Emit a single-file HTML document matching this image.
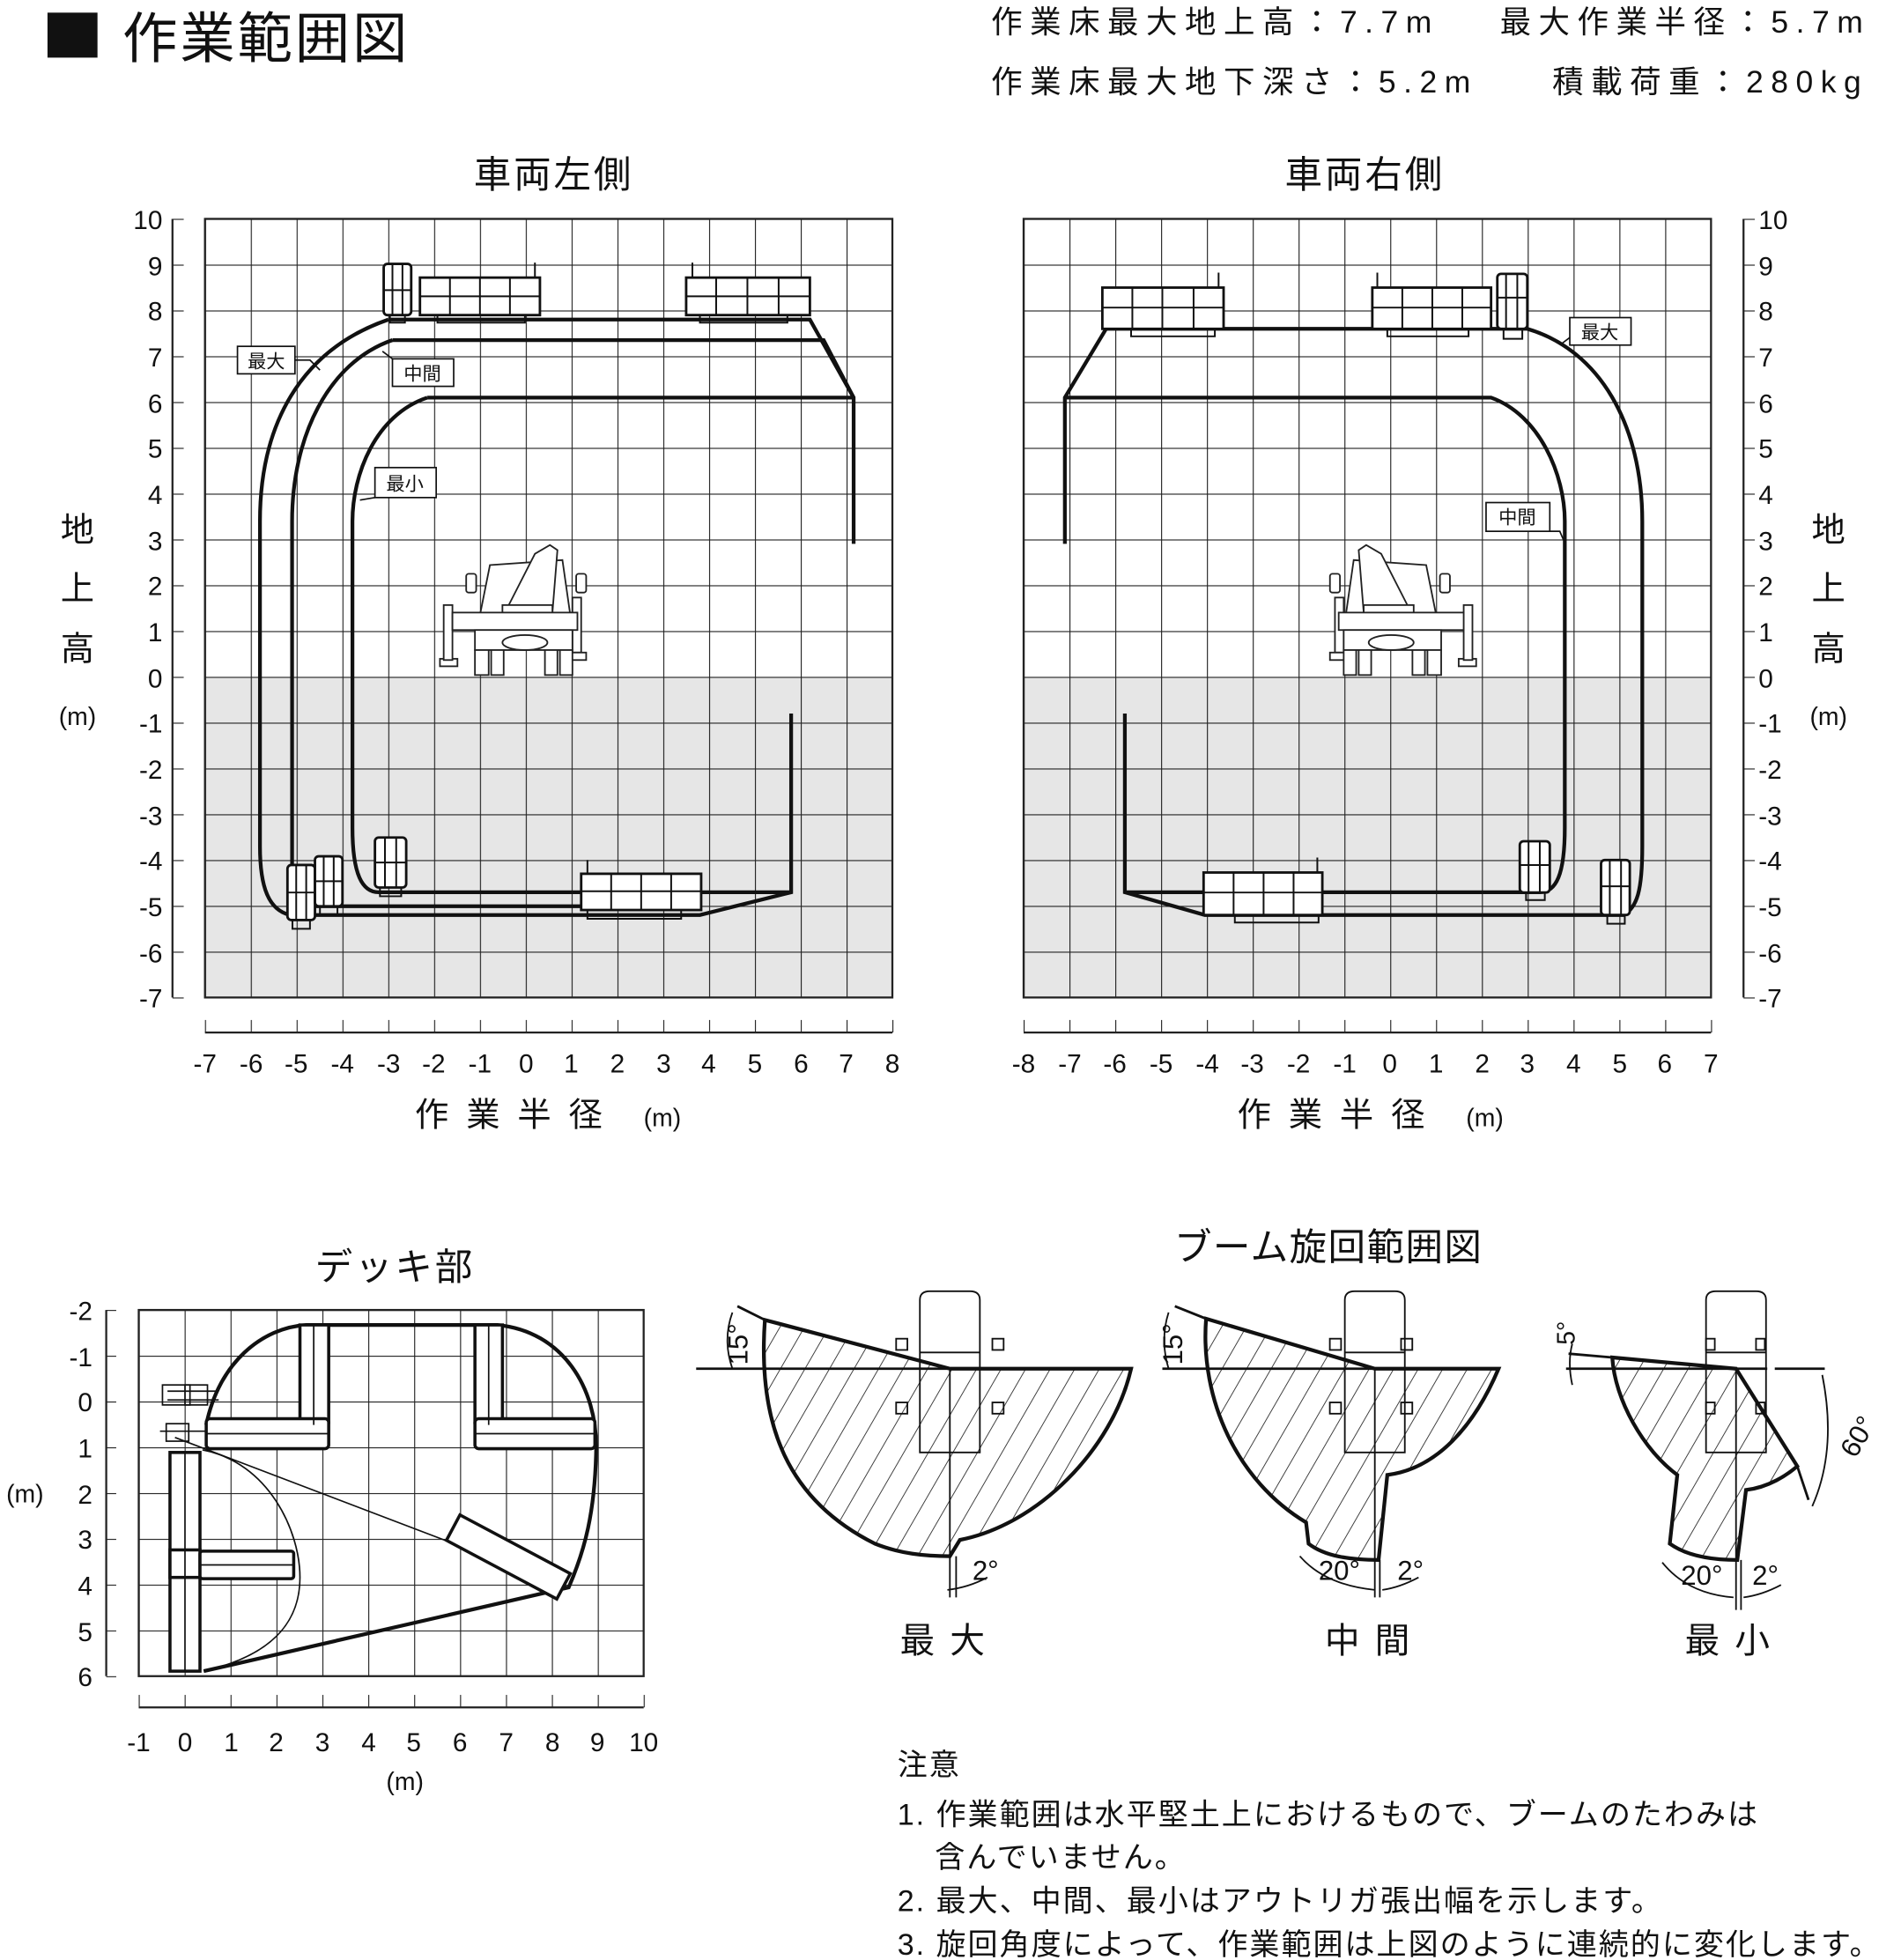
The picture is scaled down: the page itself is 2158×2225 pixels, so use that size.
<!DOCTYPE html>
<html><head><meta charset="utf-8"><style>
html,body{margin:0;padding:0;background:#fff}
svg{display:block}
text{font-family:"Liberation Sans","Noto Sans CJK JP",sans-serif;fill:#111}
</style></head><body>
<svg width="2158" height="2225" viewBox="0 0 1521 1568" xmlns="http://www.w3.org/2000/svg">
<defs>
<pattern id="gL" x="164" y="175" width="36.667" height="36.647" patternUnits="userSpaceOnUse"><path d="M0,0H36.667M0,0V36.647" stroke="#222" stroke-width="1.6" fill="none"/></pattern>
<pattern id="gR" x="819" y="175" width="36.667" height="36.647" patternUnits="userSpaceOnUse"><path d="M0,0H36.667M0,0V36.647" stroke="#222" stroke-width="1.6" fill="none"/></pattern>
<pattern id="gD" x="111" y="1048" width="36.73" height="36.63" patternUnits="userSpaceOnUse"><path d="M0,0H36.73M0,0V36.63" stroke="#222" stroke-width="1.6" fill="none"/></pattern>
<pattern id="hat" width="17" height="17" patternUnits="userSpaceOnUse" patternTransform="rotate(30)"><path d="M0,0V17" stroke="#222" stroke-width="1.2"/></pattern>
<pattern id="tkL" x="164" y="0" width="36.667" height="10" patternUnits="userSpaceOnUse"><path d="M0,0V10" stroke="#222" stroke-width="1.6"/></pattern>
<pattern id="tkR" x="819" y="0" width="36.667" height="10" patternUnits="userSpaceOnUse"><path d="M0,0V10" stroke="#222" stroke-width="1.6"/></pattern>
<pattern id="tkY" x="0" y="175" width="10" height="36.647" patternUnits="userSpaceOnUse"><path d="M0,0H10" stroke="#222" stroke-width="1.6"/></pattern>
<pattern id="tkDX" x="111" y="0" width="36.73" height="10" patternUnits="userSpaceOnUse"><path d="M0,0V10" stroke="#222" stroke-width="1.6"/></pattern>
<pattern id="tkDY" x="0" y="1048" width="10" height="36.63" patternUnits="userSpaceOnUse"><path d="M0,0H10" stroke="#222" stroke-width="1.6"/></pattern>
<g id="truck" fill="#fff" stroke="#222" stroke-width="1.3">
<rect x="352" y="527" width="14" height="6"/>
<rect x="355" y="484" width="7" height="44"/>
<rect x="458" y="478" width="7" height="44"/>
<rect x="455" y="522" width="14" height="6"/>
<path d="M383,497 L392,452 L450,448 L457,497 Z"/>
<rect x="373" y="459" width="8" height="15" rx="2"/>
<rect x="461" y="459" width="8" height="15" rx="2"/>
<path d="M404,490 L428,443 L440,436 L446,440 L442,490 Z"/>
<rect x="402" y="484" width="40" height="8"/>
<rect x="362" y="490" width="100" height="14"/>
<path d="M380,504 L458,504 L458,520 L380,520 Z"/>
<ellipse cx="420" cy="514" rx="18" ry="6"/>
<rect x="380" y="520" width="11" height="20"/>
<rect x="393" y="520" width="10" height="20"/>
<rect x="436" y="520" width="10" height="20"/>
<rect x="448" y="520" width="10" height="20"/>
</g>
</defs>

<!-- Header -->
<rect x="38" y="10" width="40" height="36" fill="#111"/>
<text x="98" y="46" font-size="44" letter-spacing="2">作業範囲図</text>
<g font-size="25" letter-spacing="6">
<text x="793" y="26">作業床最大地上高：7.7m</text>
<text x="1200" y="26">最大作業半径：5.7m</text>
<text x="793" y="74">作業床最大地下深さ：5.2m</text>
<text x="1242" y="74">積載荷重：280kg</text>
</g>

<!-- LEFT CHART -->
<text x="443" y="150" font-size="30" text-anchor="middle" letter-spacing="2">車両左側</text>
<rect x="164" y="541.5" width="550" height="256.5" fill="#e6e6e6"/>
<rect x="164" y="175" width="550" height="623" fill="url(#gL)"/>
<rect x="164" y="175" width="550" height="623" fill="none" stroke="#222" stroke-width="1.6"/>
<line x1="138" y1="175" x2="138" y2="798" stroke="#222" stroke-width="1.6"/>
<rect x="138" y="174" width="9" height="626" fill="url(#tkY)"/>
<line x1="164" y1="826" x2="714" y2="826" stroke="#222" stroke-width="1.6"/>
<rect x="163" y="816" width="553" height="10" fill="url(#tkL)"/>
<g font-size="21" text-anchor="end">
<text x="130" y="183">10</text><text x="130" y="220">9</text><text x="130" y="256">8</text><text x="130" y="293">7</text><text x="130" y="330">6</text><text x="130" y="366">5</text><text x="130" y="403">4</text><text x="130" y="440">3</text><text x="130" y="476">2</text><text x="130" y="513">1</text><text x="130" y="550">0</text><text x="130" y="586">-1</text><text x="130" y="623">-2</text><text x="130" y="660">-3</text><text x="130" y="696">-4</text><text x="130" y="733">-5</text><text x="130" y="770">-6</text><text x="130" y="806">-7</text>
</g>
<g font-size="21" text-anchor="middle">
<text x="164" y="858">-7</text><text x="201" y="858">-6</text><text x="237" y="858">-5</text><text x="274" y="858">-4</text><text x="311" y="858">-3</text><text x="347" y="858">-2</text><text x="384" y="858">-1</text><text x="421" y="858">0</text><text x="457" y="858">1</text><text x="494" y="858">2</text><text x="531" y="858">3</text><text x="567" y="858">4</text><text x="604" y="858">5</text><text x="641" y="858">6</text><text x="677" y="858">7</text><text x="714" y="858">8</text>
</g>
<text x="332" y="901" font-size="27" letter-spacing="14">作業半径</text><text x="515" y="901" font-size="20">(m)</text>
<g font-size="27" text-anchor="middle"><text x="62" y="433">地</text><text x="62" y="480">上</text><text x="62" y="528">高</text></g>
<text x="62" y="580" font-size="20" text-anchor="middle">(m)</text>

<g fill="none" stroke="#111" stroke-width="3">
<path d="M310.7,255.6 L648,255.6 L683,318 L683,435"/>
<path d="M310.7,255.6 C240,280 208,340 208,417 L208,677 C208,710 215,728 232,732 L560,732 L633,713.8 L633,570.8"/>
<path d="M314,272 L659,272 L683,318"/>
<path d="M314,272 C262,290 233.7,350 233.7,417 L233.7,695 C233.7,715 240,725 254,725 L470,725"/>
<path d="M341.9,318 L683,318"/>
<path d="M341.9,318 C300,332 282,380 282,417 L282,662 C282,700 290,713.8 303,713.8 L633,713.8"/>
</g>
<g fill="#fff" stroke="#111" stroke-width="2">
<rect x="336" y="222" width="96" height="30"/>
<rect x="549" y="222" width="99" height="30"/>
<rect x="307" y="211" width="22" height="41" rx="3"/>
<rect x="465" y="699" width="96" height="29"/>
<rect x="230" y="692" width="22" height="44" rx="3"/>
<rect x="252" y="685" width="22" height="40" rx="3"/>
<rect x="300" y="670" width="25" height="40" rx="3"/>
</g>
<g fill="none" stroke="#111" stroke-width="1.4">
<path d="M336,237H432M360,222V252M384,222V252M408,222V252M350,252V258H420V252M428,222V210"/>
<path d="M549,237H648M573,222V252M598,222V252M623,222V252M560,252V258H630V252M554,222V210"/>
<path d="M307,232H329M314,211V252M322,211V252M312,252V258H324V252"/>
<path d="M465,713H561M489,699V728M513,699V728M537,699V728M470,728V735H545V728M470,699V688"/>
<path d="M230,714H252M237,692V736M245,692V736M234,736V743H248V736"/>
<path d="M252,705H274M259,685V725M267,685V725M256,725V732H270V725"/>
<path d="M300,690H325M308,670V710M317,670V710M304,710V717H321V710"/>
</g>
<use href="#truck"/>
<g stroke="#111" stroke-width="1.2" fill="#fff">
<rect x="190" y="277" width="46" height="22"/><path d="M236,288 L248,288 L256,296" fill="none"/>
<rect x="314" y="287" width="49" height="22"/><path d="M314,287 L306,281" fill="none"/>
<rect x="300" y="374" width="49" height="24"/><path d="M300,398 L288,400" fill="none"/>
</g>
<g font-size="15" text-anchor="middle"><text x="213" y="294">最大</text><text x="338" y="304">中間</text><text x="324" y="392">最小</text></g>

<!-- RIGHT CHART -->
<text x="1092" y="150" font-size="30" text-anchor="middle" letter-spacing="2">車両右側</text>
<rect x="819" y="541.5" width="550" height="256.5" fill="#e6e6e6"/>
<rect x="819" y="175" width="550" height="623" fill="url(#gR)"/>
<rect x="819" y="175" width="550" height="623" fill="none" stroke="#222" stroke-width="1.6"/>
<line x1="1395" y1="175" x2="1395" y2="798" stroke="#222" stroke-width="1.6"/>
<rect x="1395" y="174" width="9" height="626" fill="url(#tkY)"/>
<line x1="819" y1="826" x2="1369" y2="826" stroke="#222" stroke-width="1.6"/>
<rect x="818" y="816" width="553" height="10" fill="url(#tkR)"/>
<g font-size="21">
<text x="1407" y="183">10</text><text x="1407" y="220">9</text><text x="1407" y="256">8</text><text x="1407" y="293">7</text><text x="1407" y="330">6</text><text x="1407" y="366">5</text><text x="1407" y="403">4</text><text x="1407" y="440">3</text><text x="1407" y="476">2</text><text x="1407" y="513">1</text><text x="1407" y="550">0</text><text x="1407" y="586">-1</text><text x="1407" y="623">-2</text><text x="1407" y="660">-3</text><text x="1407" y="696">-4</text><text x="1407" y="733">-5</text><text x="1407" y="770">-6</text><text x="1407" y="806">-7</text>
</g>
<g font-size="21" text-anchor="middle">
<text x="819" y="858">-8</text><text x="856" y="858">-7</text><text x="892" y="858">-6</text><text x="929" y="858">-5</text><text x="966" y="858">-4</text><text x="1002" y="858">-3</text><text x="1039" y="858">-2</text><text x="1076" y="858">-1</text><text x="1112" y="858">0</text><text x="1149" y="858">1</text><text x="1186" y="858">2</text><text x="1222" y="858">3</text><text x="1259" y="858">4</text><text x="1296" y="858">5</text><text x="1332" y="858">6</text><text x="1369" y="858">7</text>
</g>
<text x="990" y="901" font-size="27" letter-spacing="14">作業半径</text><text x="1173" y="901" font-size="20">(m)</text>
<g font-size="27" text-anchor="middle"><text x="1463" y="433">地</text><text x="1463" y="480">上</text><text x="1463" y="528">高</text></g>
<text x="1463" y="580" font-size="20" text-anchor="middle">(m)</text>

<g fill="none" stroke="#111" stroke-width="3">
<path d="M852,435 L852,318 L885,263 L1222,263 C1280,280 1314,340 1314,417 L1314,677 C1314,712 1310,726 1299,732 L964,732 L900,713.8 L900,570.8"/>
<path d="M852,318 L1193,318 C1232,332 1252,380 1252,417 L1252,662 C1252,700 1245,713.8 1232,713.8 L900,713.8"/>
</g>
<g fill="#fff" stroke="#111" stroke-width="2">
<rect x="882" y="230" width="97" height="33"/>
<rect x="1098" y="230" width="95" height="33"/>
<rect x="1198" y="219" width="24" height="44" rx="3"/>
<rect x="963" y="698" width="95" height="34"/>
<rect x="1216" y="673" width="24" height="41" rx="3"/>
<rect x="1281" y="688" width="23" height="44" rx="3"/>
</g>
<g fill="none" stroke="#111" stroke-width="1.4">
<path d="M882,246H979M906,230V263M930,230V263M955,230V263M905,263V269H972V263M975,230V218"/>
<path d="M1098,246H1193M1122,230V263M1146,230V263M1170,230V263M1110,263V269H1175V263M1102,230V218"/>
<path d="M1198,238H1222M1205,219V263M1214,219V263M1203,263V271H1218V263"/>
<path d="M963,714H1058M987,698V732M1011,698V732M1035,698V732M988,732V738H1055V732M1054,698V686"/>
<path d="M1216,692H1240M1223,673V714M1232,673V714M1221,714V720H1236V714"/>
<path d="M1281,709H1304M1288,688V732M1297,688V732M1286,732V739H1300V732"/>
</g>
<use href="#truck" transform="translate(1533.1,0) scale(-1,1)"/>
<g stroke="#111" stroke-width="1.2" fill="#fff">
<rect x="1256" y="254" width="49" height="22"/><path d="M1256,270 L1248,276" fill="none"/>
<rect x="1189" y="402" width="51" height="23"/><path d="M1240,425 L1248,425 L1251,432" fill="none"/>
</g>
<g font-size="15" text-anchor="middle"><text x="1280" y="271">最大</text><text x="1214" y="419">中間</text></g>

<!-- DECK -->
<text x="316" y="1024" font-size="30" text-anchor="middle" letter-spacing="2">デッキ部</text>
<rect x="111" y="1048" width="404" height="293" fill="url(#gD)"/>
<rect x="111" y="1048" width="404" height="293" fill="none" stroke="#222" stroke-width="1.6"/>
<line x1="85" y1="1048" x2="85" y2="1341" stroke="#222" stroke-width="1.6"/>
<rect x="85" y="1047" width="8" height="296" fill="url(#tkDY)"/>
<line x1="111" y1="1366" x2="515" y2="1366" stroke="#222" stroke-width="1.6"/>
<rect x="110" y="1356" width="407" height="10" fill="url(#tkDX)"/>
<g font-size="21" text-anchor="end">
<text x="74" y="1056">-2</text><text x="74" y="1093">-1</text><text x="74" y="1129">0</text><text x="74" y="1166">1</text><text x="74" y="1203">2</text><text x="74" y="1239">3</text><text x="74" y="1276">4</text><text x="74" y="1313">5</text><text x="74" y="1349">6</text>
</g>
<text x="20" y="1202" font-size="20" text-anchor="middle">(m)</text>
<g font-size="21" text-anchor="middle">
<text x="111" y="1401">-1</text><text x="148" y="1401">0</text><text x="185" y="1401">1</text><text x="221" y="1401">2</text><text x="258" y="1401">3</text><text x="295" y="1401">4</text><text x="331" y="1401">5</text><text x="368" y="1401">6</text><text x="405" y="1401">7</text><text x="442" y="1401">8</text><text x="478" y="1401">9</text><text x="515" y="1401">10</text>
</g>
<text x="324" y="1432" font-size="20" text-anchor="middle">(m)</text>
<g fill="none" stroke="#111" stroke-width="3">
<path d="M165,1140 C175,1090 210,1062 245,1060 L398,1060 C450,1065 478,1110 477,1160 C476,1210 468,1240 455,1270 L163,1337"/>
</g>
<g fill="none" stroke="#111" stroke-width="1.2">
<path d="M140,1150 L455,1270"/>
<path d="M162,1160 C215,1170 240,1225 240,1262 C240,1300 215,1325 163,1337"/>
<path d="M134,1113H175M134,1120H175"/>
<rect x="130" y="1108" width="22" height="16"/><rect x="148" y="1108" width="18" height="16"/>
<rect x="133" y="1139" width="18" height="14"/>
<path d="M128,1145H165"/>
</g>
<g fill="#fff" stroke="#111" stroke-width="2.5">
<rect x="240" y="1060" width="23" height="78"/>
<rect x="380" y="1060" width="22" height="78"/>
<rect x="165" y="1135" width="98" height="24" rx="3"/>
<rect x="380" y="1135" width="96" height="24" rx="3"/>
<rect x="136" y="1162" width="24" height="175"/>
<rect x="136" y="1240" width="24" height="22"/>
<rect x="160" y="1241" width="75" height="22" rx="2"/>
<rect x="368" y="1212" width="100" height="23" transform="rotate(28 368 1212)"/>
</g>
<g fill="none" stroke="#111" stroke-width="1.2">
<path d="M251,1060V1140M391,1060V1140M165,1147H263M380,1147H476M148,1162V1337M160,1252H235"/>
</g>

<!-- BOOM SWING -->
<text x="1063" y="1008" font-size="30" text-anchor="middle" letter-spacing="1">ブーム旋回範囲図</text>
<path d="M760,1095 L612,1056 C606,1140 630,1200 700,1235 C720,1243 740,1245 760,1245 L768,1232 C830,1220 890,1160 905,1095 Z" fill="url(#hat)" stroke="#111" stroke-width="3"/>
<path d="M557,1095H905M590,1045L612,1056" stroke="#111" stroke-width="2" fill="none"/>
<g fill="none" stroke="#111" stroke-width="1.3">
<path d="M736,1162V1040Q736,1033 744,1033H776Q784,1033 784,1040V1162Z M736,1082H784"/>
<rect x="717" y="1071" width="9" height="9"/><rect x="794" y="1071" width="9" height="9"/>
<rect x="717" y="1122" width="9" height="9"/><rect x="794" y="1122" width="9" height="9"/>
<path d="M760,1095V1278M765,1245V1278M586,1050Q578,1072 586,1095M758,1272Q775,1270 790,1262"/>
</g>
<text x="570" y="1096" font-size="22" transform="rotate(-90 582 1080)">15°</text>
<text x="778" y="1264" font-size="22">2°</text>
<text x="760" y="1322" font-size="28" text-anchor="middle" letter-spacing="12">最大</text>
<path d="M1100,1095 L965,1055 C960,1120 990,1185 1045,1218 L1047,1235 C1060,1245 1080,1248 1103,1248 L1110,1180 C1150,1175 1180,1140 1199,1095 Z" fill="url(#hat)" stroke="#111" stroke-width="3"/>
<path d="M930,1095H1199M940,1045L965,1055" stroke="#111" stroke-width="2" fill="none"/>
<g fill="none" stroke="#111" stroke-width="1.3">
<path d="M1076,1162V1040Q1076,1033 1084,1033H1116Q1124,1033 1124,1040V1162Z M1076,1082H1124"/>
<rect x="1064" y="1071" width="9" height="9"/><rect x="1121" y="1071" width="9" height="9"/>
<rect x="1064" y="1122" width="9" height="9"/><rect x="1121" y="1122" width="9" height="9"/>
<path d="M1100,1095V1278M1104,1248V1278M935,1050Q928,1072 935,1095M1040,1245Q1060,1268 1100,1272M1106,1272Q1120,1270 1135,1262"/>
</g>
<text x="918" y="1096" font-size="22" transform="rotate(-90 930 1080)">15°</text>
<text x="1055" y="1264" font-size="22">20°</text><text x="1118" y="1264" font-size="22">2°</text>
<text x="1100" y="1322" font-size="28" text-anchor="middle" letter-spacing="12">中間</text>
<path d="M1389,1095 L1290,1086 C1292,1120 1315,1160 1342,1180 L1336,1235 C1350,1245 1370,1248 1390,1248 L1397,1192 C1415,1190 1430,1180 1438,1173 Z" fill="url(#hat)" stroke="#111" stroke-width="3"/>
<path d="M1253,1095H1414M1420,1095H1460M1255,1083L1290,1086M1438,1173L1447,1200" stroke="#111" stroke-width="2" fill="none"/>
<g fill="none" stroke="#111" stroke-width="1.3">
<path d="M1365,1162V1040Q1365,1033 1373,1033H1405Q1413,1033 1413,1040V1162Z M1365,1082H1413"/>
<rect x="1365" y="1071" width="7" height="9"/><rect x="1405" y="1071" width="7" height="9"/>
<rect x="1365" y="1122" width="7" height="9"/><rect x="1405" y="1122" width="7" height="9"/>
<path d="M1389,1095V1288M1393,1248V1288M1258,1075Q1254,1090 1258,1108M1458,1100Q1470,1160 1450,1205M1330,1250Q1350,1275 1387,1278M1395,1278Q1410,1276 1425,1268"/>
</g>
<text x="1236" y="1076" font-size="20" transform="rotate(-90 1248 1064)">5°</text>
<text x="1470" y="1162" font-size="22" transform="rotate(-60 1482 1152)">60°</text>
<text x="1345" y="1268" font-size="22">20°</text><text x="1402" y="1268" font-size="22">2°</text>
<text x="1388" y="1322" font-size="28" text-anchor="middle" letter-spacing="12">最小</text>

<!-- NOTES -->
<g font-size="24" letter-spacing="1.4">
<text x="718" y="1420">注意</text>
<text x="718" y="1460">1. 作業範囲は水平堅土上におけるもので、ブームのたわみは</text>
<text x="748" y="1494">含んでいません。</text>
<text x="718" y="1529">2. 最大、中間、最小はアウトリガ張出幅を示します。</text>
<text x="718" y="1564">3. 旋回角度によって、作業範囲は上図のように連続的に変化します。</text>
</g>
</svg>
</body></html>
